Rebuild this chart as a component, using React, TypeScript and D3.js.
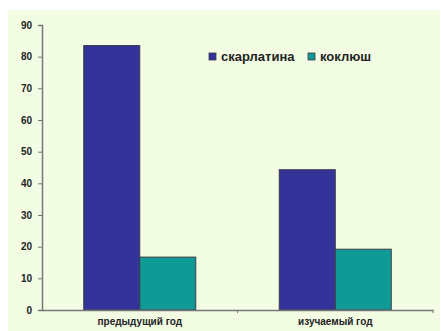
import React, { useEffect, useRef } from 'react';
import * as d3 from 'd3';

const categories = ['предыдущий год', 'изучаемый год'];
const seriesNames = ['скарлатина', 'коклюш'];
const scarlatina = [83.5, 44.3];
const pertussis = [16.7, 19.2];
const yTicks = [0, 10, 20, 30, 40, 50, 60, 70, 80, 90];

const colors = ['#333399', '#109a95'];

const App = () => {
  const ref = useRef<SVGSVGElement>(null);

  useEffect(() => {
    const svg = d3.select(ref.current);
    svg.selectAll('*').remove();

    const left = 42;
    const right = 433;
    const top = 25;
    const bottom = 310;
    const groupWidth = 112;

    // background panel
    svg.append('rect').attr('width', 441).attr('height', 331).attr('fill', '#ffffff');
    svg.append('rect').attr('x', 8).attr('y', 10).attr('width', 432).attr('height', 321).attr('fill', '#f2fde4');

    const x0 = d3.scaleBand().domain(categories).range([left, right]);
    const x1 = d3.scaleBand().domain(seriesNames).range([0, groupWidth]);
    const y = d3.scaleLinear().domain([0, 90]).range([bottom, top]);

    const rows = categories.map((c, i) => ({ c, vals: [scarlatina[i], pertussis[i]] }));

    const groups = svg
      .selectAll('.grp')
      .data(rows)
      .enter()
      .append('g')
      .attr('transform', (d) => `translate(${(x0(d.c) || 0) + (x0.bandwidth() - groupWidth) / 2},0)`);

    groups
      .selectAll('rect')
      .data((d) => d.vals.map((v, j) => ({ v, s: seriesNames[j], j })))
      .enter()
      .append('rect')
      .attr('x', (d) => x1(d.s) || 0)
      .attr('width', x1.bandwidth())
      .attr('y', (d) => y(d.v))
      .attr('height', (d) => bottom - y(d.v))
      .attr('fill', (d) => colors[d.j])
      .attr('stroke', '#3a3a4a')
      .attr('stroke-width', 1);

    // y axis
    const yAxis = svg
      .append('g')
      .attr('transform', `translate(${left},0)`)
      .call(d3.axisLeft(y).tickValues(yTicks).tickSize(4).tickPadding(6));
    yAxis.select('.domain').attr('stroke', '#777').attr('stroke-width', 1.5);
    yAxis.selectAll('line').attr('stroke', '#777');
    yAxis
      .selectAll('text')
      .attr('fill', '#222')
      .attr('font-family', 'Liberation Sans, Arial, sans-serif')
      .attr('font-weight', 'bold')
      .attr('font-size', 10);

    // x axis
    const xAxis = svg
      .append('g')
      .attr('transform', `translate(0,${bottom})`)
      .call(d3.axisBottom(x0).tickSize(0).tickPadding(8));
    xAxis.select('.domain').attr('stroke', '#777').attr('stroke-width', 1.5);
    xAxis
      .selectAll('text')
      .attr('fill', '#222')
      .attr('font-family', 'Liberation Sans, Arial, sans-serif')
      .attr('font-weight', 'bold')
      .attr('font-size', 10);
    // category boundary ticks
    svg
      .append('g')
      .selectAll('line')
      .data([left + x0.step(), right])
      .enter()
      .append('line')
      .attr('x1', (d) => d)
      .attr('x2', (d) => d)
      .attr('y1', bottom)
      .attr('y2', bottom + 3)
      .attr('stroke', '#777');

    // legend
    const legendX = [209, 308];
    const legend = svg
      .selectAll('.leg')
      .data(seriesNames)
      .enter()
      .append('g')
      .attr('transform', (d, i) => `translate(${legendX[i]},53)`);
    legend
      .append('rect')
      .attr('width', 7)
      .attr('height', 7)
      .attr('fill', (d, i) => colors[i])
      .attr('stroke', '#3a3a4a')
      .attr('stroke-width', 0.8);
    legend
      .append('text')
      .attr('x', 12)
      .attr('y', 8)
      .attr('fill', '#222')
      .attr('font-family', 'Liberation Sans, Arial, sans-serif')
      .attr('font-weight', 'bold')
      .attr('font-size', 13)
      .text((d) => d);
  }, []);

  return (
    <svg
      ref={ref}
      width={441}
      height={331}
      style={{ position: 'absolute', left: 0, top: 0 }}
    />
  );
};

export default App;
